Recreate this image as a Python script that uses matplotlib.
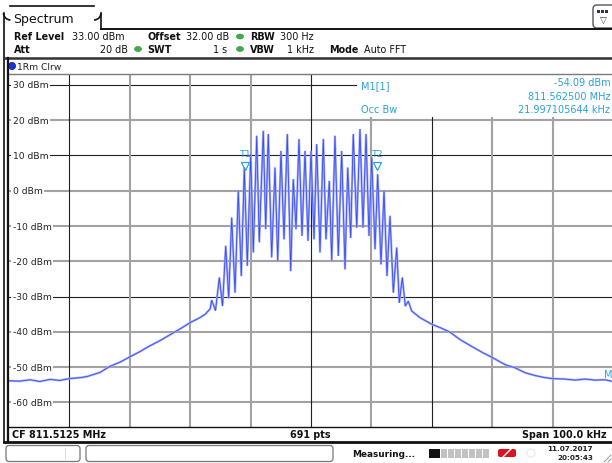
import matplotlib
matplotlib.use("Agg")
import matplotlib.pyplot as plt
from matplotlib.patches import FancyBboxPatch, Rectangle, Ellipse, Circle, Arc
from matplotlib.lines import Line2D

plt.rcParams["font.family"] = ["DejaVu Sans"]

# ---- measurement data (offset from centre frequency in kHz, level in dBm) ----
left_skirt_khz = [-50.0, -48.2, -46.5, -44.9, -43.2, -41.6, -40.1, -38.2, -37.1,
                  -34.9, -33.3, -31.6, -30.1, -28.3, -26.7, -25.0, -23.0, -21.5,
                  -19.9, -18.4, -17.5, -16.7]
left_skirt_dbm = [-53.9, -54.0, -53.6, -54.1, -53.5, -53.8, -53.3, -53.0, -52.7,
                  -51.5, -49.8, -48.6, -47.2, -45.6, -44.0, -42.5, -40.5, -39.0,
                  -37.3, -36.0, -35.0, -33.5]

comb_khz = [-16.44, -15.81, -15.18, -14.65, -14.12, -13.63, -13.13, -12.58, -12.04,
            -11.54, -11.04, -10.55, -9.98, -9.55, -8.99, -8.56, -7.90, -7.50,
            -7.07, -6.51, -5.96, -5.51, -4.97, -4.47, -3.92, -3.36, -2.93,
            -2.48, -1.99, -1.49, -0.99, -0.50, 0.00, 0.50, 0.94, 1.49,
            2.04, 2.48, 3.03, 3.43, 3.97, 4.52, 5.08, 5.63, 6.08,
            6.57, 7.00, 7.57, 8.11, 8.61, 9.11, 9.60, 10.05, 10.60,
            11.04, 11.59, 12.09, 12.58, 13.08, 13.63, 14.19, 14.62, 15.12,
            15.61, 16.11, 16.67]
comb_dbm = [-31.0, -34.0, -24.6, -32.7, -15.6, -30.5, -7.6, -28.9, 0.0,
            -24.2, 6.6, -21.3, 10.4, -17.5, 15.6, -14.6, 17.0, -10.9,
            16.1, -18.9, 6.6, -19.9, 11.3, -13.8, 16.1, -22.8, 3.3,
            -10.9, 14.7, -12.8, 11.3, -14.2, 11.3, -13.8, 13.2, -17.5,
            14.7, -13.8, 2.8, -19.9, 15.6, -18.5, 11.3, -22.3, 6.6,
            -13.4, 16.1, -10.5, 17.5, -10.5, 16.1, -12.8, 9.5, -16.6,
            4.7, -20.9, 0.0, -24.2, -7.1, -28.9, -16.1, -31.8, -24.6,
            -32.7, -31.3, -34.1]

right_skirt_khz = [18.05, 20.03, 21.36, 23.01, 24.67, 26.66, 28.31, 30.13, 32.12,
                   33.77, 35.43, 37.09, 38.74, 40.07, 42.05, 43.71, 45.36, 47.02,
                   48.68, 50.0]
right_skirt_dbm = [-36.0, -37.9, -38.8, -40.1, -42.2, -44.2, -45.8, -47.4, -49.3,
                   -50.2, -51.6, -52.4, -53.0, -53.3, -53.4, -53.7, -53.4, -53.7,
                   -53.6, -54.1]

level_ticks = [30, 20, 10, 0, -10, -20, -30, -40, -50, -60]
freq_grid_khz = [-40, -30, -20, -10, 0, 10, 20, 30, 40]

# occupied-bandwidth markers T1 / T2
occ_marker_khz = [-11.0, 11.0]
occ_marker_dbm = [7.0, 7.0]
occ_marker_names = ["T1", "T2"]

ref_level = 33.0
span_khz = 100.0

# ---- figure ----
W, H = 612, 464
fig = plt.figure(figsize=(W / 100, H / 100), dpi=100)
fig.patch.set_facecolor("white")

hud = fig.add_axes([0, 0, 1, 1], zorder=3)
hud.set_xlim(0, W)
hud.set_ylim(H, 0)
hud.axis("off")
hud.patch.set_alpha(0)

plot_left, plot_right = 9, 613
plot_top, plot_bottom = 75.4, 428.0
ax = fig.add_axes([plot_left / W, 1 - plot_bottom / H,
                   (plot_right - plot_left) / W, (plot_bottom - plot_top) / H],
                  zorder=2)
ax.set_xlim(-span_khz / 2, span_khz / 2)
ax.set_ylim(ref_level - 100, ref_level)
ax.axis("off")
ax.patch.set_alpha(0)

mk_blue = "#2aa0dc"
trace_dark = "#3a4cf0"
trace_light = "#a3adff"

# grid lines: the screen renders some 1 px black, some 2 px grey
h_dark = {30, 10, -30}
for lv in level_ticks:
    if lv in h_dark:
        ax.axhline(lv, color="#202020", lw=0.8, zorder=1)
    else:
        ax.axhline(lv, color="#a2a2a2", lw=1.5, zorder=1)
v_dark = {-40, 0, 20}
for f in freq_grid_khz:
    if f in v_dark:
        ax.axvline(f, color="#202020", lw=0.8, zorder=1)
    else:
        ax.axvline(f, color="#a2a2a2", lw=1.5, zorder=1)

# level labels sit on the grid lines with a white backing
for lv in level_ticks:
    ax.text(0.006, lv, f"{lv} dBm", transform=ax.get_yaxis_transform(),
            fontsize=6.6, color="#222222", va="center", ha="left", zorder=4,
            bbox=dict(facecolor="white", edgecolor="none", pad=1.2))

# marker readout panel (white field over the grid, upper right)
hud.add_patch(Rectangle((357, 76), 260, 41.5, fc="white", ec="none", zorder=0))
hud.text(361, 86, "M1[1]", fontsize=7, color=mk_blue, va="center", ha="left")
hud.text(361, 110, "Occ Bw", fontsize=7, color=mk_blue, va="center", ha="left")
hud.text(611, 83, "-54.09 dBm", fontsize=7, color=mk_blue, va="center", ha="right")
hud.text(610, 96.5, "811.562500 MHz", fontsize=7, color=mk_blue, va="center", ha="right")
hud.text(610, 110, "21.997105644 kHz", fontsize=7, color=mk_blue, va="center", ha="right")
hud.text(604, 375, "M", fontsize=7, color=mk_blue, va="center", ha="left")

# trace
trace_khz = left_skirt_khz + comb_khz + right_skirt_khz
trace_dbm = left_skirt_dbm + comb_dbm + right_skirt_dbm
ax.plot(trace_khz, trace_dbm, color=trace_light, lw=1.6, zorder=5,
        solid_joinstyle="miter")
ax.plot(trace_khz, trace_dbm, color=trace_dark, lw=0.6, zorder=6,
        solid_joinstyle="miter")

# T1 / T2 markers
for f, lv, name in zip(occ_marker_khz, occ_marker_dbm, occ_marker_names):
    ax.plot([f], [lv], marker="v", ms=5.5, mfc="none", mec=mk_blue, mew=0.9,
            zorder=7)
    ax.annotate(name, (f, lv), xytext=(0, 5.5), textcoords="offset points",
                ha="center", va="bottom", fontsize=6.8, color=mk_blue, zorder=7)

# ---- frame / header ----
k = "#111111"
# tab outline
hud.add_line(Line2D([3.5, 3.5], [14, 443], color=k, lw=1.2))
hud.add_line(Line2D([10, 94], [7, 7], color=k, lw=1.2))
hud.add_patch(Arc((10.5, 14), 14, 14, theta1=90, theta2=180, color=k, lw=1.2))
hud.add_patch(Arc((94, 14), 14, 14, theta1=0, theta2=90, color=k, lw=1.2))
hud.add_line(Line2D([101, 101], [14, 30], color=k, lw=1.2))
hud.add_line(Line2D([101, 612], [30, 30], color=k, lw=1.4))
hud.text(13, 19.5, "Spectrum", fontsize=9, color=k, va="center", ha="left")

# settings icon at top right
hud.add_patch(FancyBboxPatch((593, 6), 24, 23, boxstyle="round,pad=0,rounding_size=4",
                             fc="white", ec="#555555", lw=1.0))
for i in range(3):
    hud.add_patch(Rectangle((597 + i * 4, 11), 3, 3, fc="#2a3550", ec="none"))
hud.text(603, 21.5, "\u25bd", fontsize=6.5, color="#444444", va="center", ha="center")

# settings rows
def lab(x, y, s, bold=False, ha="left"):
    hud.text(x, y, s, fontsize=6.9, color=k, va="center", ha=ha,
             fontweight="bold" if bold else "normal")

def dot(x, y):
    hud.add_patch(Ellipse((x, y), 7, 5, fc="#3dae45", ec="#2b8a33", lw=0.4))

r1, r2 = 37.5, 50.0
lab(14, r1, "Ref Level", True)
lab(72, r1, "33.00 dBm")
lab(147, r1, "Offset", True)
lab(229, r1, "32.00 dB", ha="right")
dot(240, r1)
lab(250, r1, "RBW", True)
lab(314, r1, "300 Hz", ha="right")

lab(14, r2, "Att", True)
lab(128, r2, "20 dB", ha="right")
dot(138, r2)
lab(147, r2, "SWT", True)
lab(227, r2, "1 s", ha="right")
dot(240, r2)
lab(250, r2, "VBW", True)
lab(314, r2, "1 kHz", ha="right")
lab(329, r2, "Mode", True)
lab(364, r2, "Auto FFT")

hud.add_line(Line2D([3.5, 612], [58.5, 58.5], color="#333333", lw=1.8))

# trace label row
hud.add_patch(Circle((12, 67), 3.6, fc="#1b33dd", ec="#0d1a8a", lw=0.5))
hud.text(17, 67.3, "1Rm Clrw", fontsize=6.6, color="#222222", va="center", ha="left")
hud.add_line(Line2D([8, 612], [74.5, 74.5], color="#7a7a7a", lw=1.0))
hud.add_line(Line2D([8, 8], [59, 443], color=k, lw=1.6))

# footer
hud.add_line(Line2D([8, 612], [427.5, 427.5], color=k, lw=1.0))
hud.text(12, 435, "CF 811.5125 MHz", fontsize=6.9, fontweight="bold", color=k,
         va="center", ha="left")
hud.text(310, 435, "691 pts", fontsize=6.9, fontweight="bold", color=k,
         va="center", ha="center")
hud.text(607, 435, "Span 100.0 kHz", fontsize=6.9, fontweight="bold", color=k,
         va="center", ha="right")
hud.add_line(Line2D([3.5, 612], [442.5, 442.5], color=k, lw=2.0))

# status bar
hud.add_patch(FancyBboxPatch((6, 446.5), 74, 16, boxstyle="round,pad=0,rounding_size=3",
                             fc="white", ec="#777777", lw=0.9))
hud.add_line(Line2D([64.5, 64.5], [449, 460], color="#dddddd", lw=0.8))
hud.add_patch(FancyBboxPatch((86, 446.5), 247, 16, boxstyle="round,pad=0,rounding_size=3",
                             fc="white", ec="#777777", lw=0.9))
hud.text(352, 454.5, "Measuring...", fontsize=6.4, fontweight="bold", color=k,
         va="center", ha="left")
seg_x = [429, 434, 441, 448, 455, 462, 469, 476, 483]
for i, sx in enumerate(seg_x):
    hud.add_patch(Rectangle((sx, 450), 4.5 if i == 0 else 6, 8.5,
                            fc="#111111" if i < 2 else "#c2c2c2", ec="none"))
hud.add_patch(FancyBboxPatch((498, 450), 18, 8, boxstyle="round,pad=0,rounding_size=2",
                             fc="#d8141e", ec="none"))
hud.add_line(Line2D([503, 511], [458, 450], color="white", lw=1.0))
hud.add_patch(Circle((531, 454), 4, fc="none", ec="#eeeeee", lw=1.2))
hud.text(593, 449.5, "11.07.2017", fontsize=5.2, fontweight="bold", color="#222222",
         va="center", ha="right")
hud.text(593, 458.5, "20:05:43", fontsize=5.2, fontweight="bold", color="#222222",
         va="center", ha="right")
for d in (4, 8):
    hud.add_line(Line2D([612 - d, 611], [463, 463 - d + 1], color="#999999", lw=0.7))

fig.savefig("out.png", dpi=100, facecolor="white")
